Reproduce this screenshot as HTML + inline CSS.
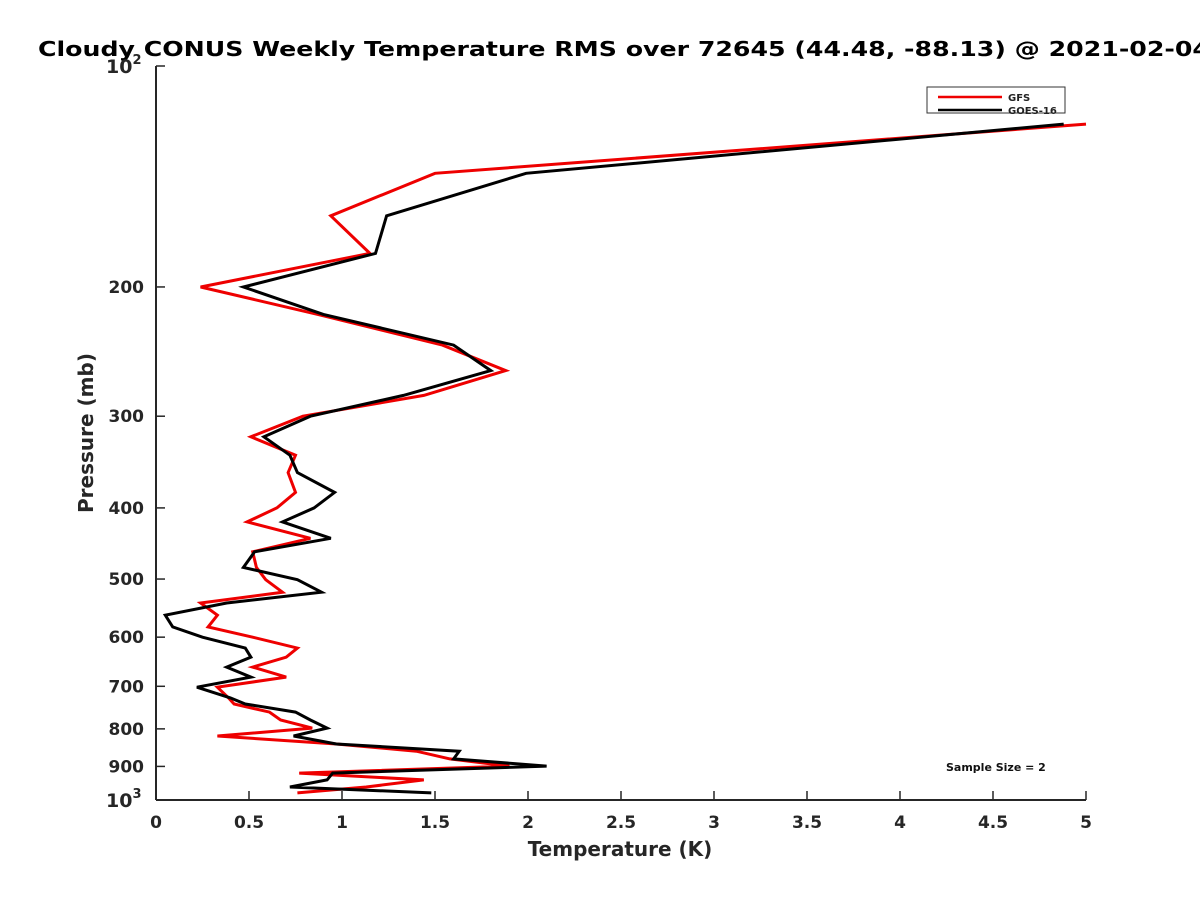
<!DOCTYPE html>
<html><head><meta charset="utf-8"><style>
body{margin:0;background:#fff;}
svg text{font-family:"DejaVu Sans","Liberation Sans",sans-serif;font-weight:bold;}
</style></head><body>
<svg id="chart" width="1200" height="900" xmlns="http://www.w3.org/2000/svg">
<rect width="1200" height="900" fill="#fff"/>
<text x="38" y="56" font-size="20" textLength="1172" lengthAdjust="spacingAndGlyphs" fill="#000">Cloudy CONUS Weekly Temperature RMS over 72645 (44.48, -88.13) @ 2021-02-04</text>
<g id="axes"></g>
<g id="series"></g>
<g>
<rect x="927" y="87" width="138" height="26" fill="#fff" stroke="#333" stroke-width="1"/>
<line x1="938" y1="97" x2="1002" y2="97" stroke="#e00" stroke-width="2.5"/>
<text x="1008" y="101" font-size="10" fill="#222">GFS</text>
<line x1="938" y1="110" x2="1002" y2="110" stroke="#000" stroke-width="2.5"/>
<text x="1008" y="114" font-size="10" fill="#222">GOES-16</text>
</g>
<text x="946" y="771" font-size="11" fill="#111">Sample Size = 2</text>
<text x="620" y="856" font-size="20" fill="#262626" text-anchor="middle">Temperature (K)</text>
<text transform="translate(93,433) rotate(-90)" font-size="20" fill="#262626" text-anchor="middle">Pressure (mb)</text>
</svg>
<script>
const levels=[120,140,160,180,200,218,240,260,281,300,320,339,358,381,400,418,440,459,482,501,521,539,560,581,600,621,639,659,680,702,726,740,759,778,798,818,839,858,879,899,919,939,960,978];
const gfsValues=[5.0,1.50,0.94,1.15,0.24,0.87,1.54,1.88,1.44,0.79,0.51,0.75,0.71,0.75,0.65,0.49,0.83,0.52,0.54,0.59,0.68,0.24,0.33,0.28,0.52,0.76,0.70,0.52,0.70,0.33,0.39,0.42,0.61,0.67,0.84,0.33,0.97,1.40,1.58,1.90,0.77,1.44,1.13,0.76];
const goesValues=[4.88,1.99,1.24,1.18,0.47,0.90,1.60,1.80,1.33,0.83,0.58,0.72,0.76,0.96,0.85,0.68,0.94,0.53,0.47,0.76,0.89,0.38,0.05,0.09,0.25,0.48,0.51,0.38,0.51,0.22,0.40,0.48,0.75,0.83,0.92,0.74,0.97,1.63,1.60,2.10,0.95,0.92,0.72,1.48];
const xTicks=[0,0.5,1,1.5,2,2.5,3,3.5,4,4.5,5];
const xTickLabels=["0","0.5","1","1.5","2","2.5","3","3.5","4","4.5","5"];
const yTicks=[200,300,400,500,600,700,800,900];
const yTickLabels=["200","300","400","500","600","700","800","900"];

const X0=156,X1=1086,Y0=66,Y1=800;
const xs=v=>X0+(v-0)/5*(X1-X0);
const ys=p=>Y0+(Math.log10(p)-2)*(Y1-Y0);
const NS="http://www.w3.org/2000/svg";
function mk(tag,attrs,parent){const e=document.createElementNS(NS,tag);for(const k in attrs)e.setAttribute(k,attrs[k]);parent.appendChild(e);return e;}
const ax=document.getElementById('axes');
let l=mk('line',{x1:X0,y1:Y0,x2:X0,y2:Y1,stroke:'#262626','stroke-width':2},ax);


l=mk('line',{x1:X0,y1:Y1,x2:X1,y2:Y1,stroke:'#262626','stroke-width':2},ax);


xTicks.forEach((v,i)=>{
  const t=mk('line',{x1:xs(v),y1:Y1,x2:xs(v),y2:Y1-9,stroke:'#262626','stroke-width':1.5},ax);
  
  
  const tx=mk('text',{x:xs(v),y:Y1+28,'font-size':17,fill:'#262626','text-anchor':'middle'},ax);
  tx.textContent=xTickLabels[i];
  
  
});
[100,1000].concat(yTicks).forEach(p=>{
  const t=mk('line',{x1:X0,y1:ys(p),x2:X0+9,y2:ys(p),stroke:'#262626','stroke-width':1.5},ax);
  
  
});
yTicks.forEach((p,i)=>{
  const tx=mk('text',{x:X0-12,y:ys(p)+6,'font-size':17,fill:'#262626','text-anchor':'end'},ax);
  tx.textContent=yTickLabels[i];
  
  
});
[[100,'2'],[1000,'3']].forEach(([p,e])=>{
  const tx=mk('text',{x:X0-50,y:ys(p)+7,'font-size':19,fill:'#262626'},ax);
  tx.textContent='10';
  
  
  const s=mk('tspan',{dy:-9,'font-size':13},tx);
  s.textContent=e;
});
const sg=document.getElementById('series');
function draw(vals,color,name){
  const pts=vals.map((v,i)=>xs(v).toFixed(1)+','+ys(levels[i]).toFixed(1)).join(' ');
  const pl=mk('polyline',{points:pts,fill:'none',stroke:color,'stroke-width':3,'stroke-linejoin':'miter'},sg);
  
  
}
draw(gfsValues,'#e00','gfs-line');
draw(goesValues,'#000','goes16-line');
</script>
</body></html>
